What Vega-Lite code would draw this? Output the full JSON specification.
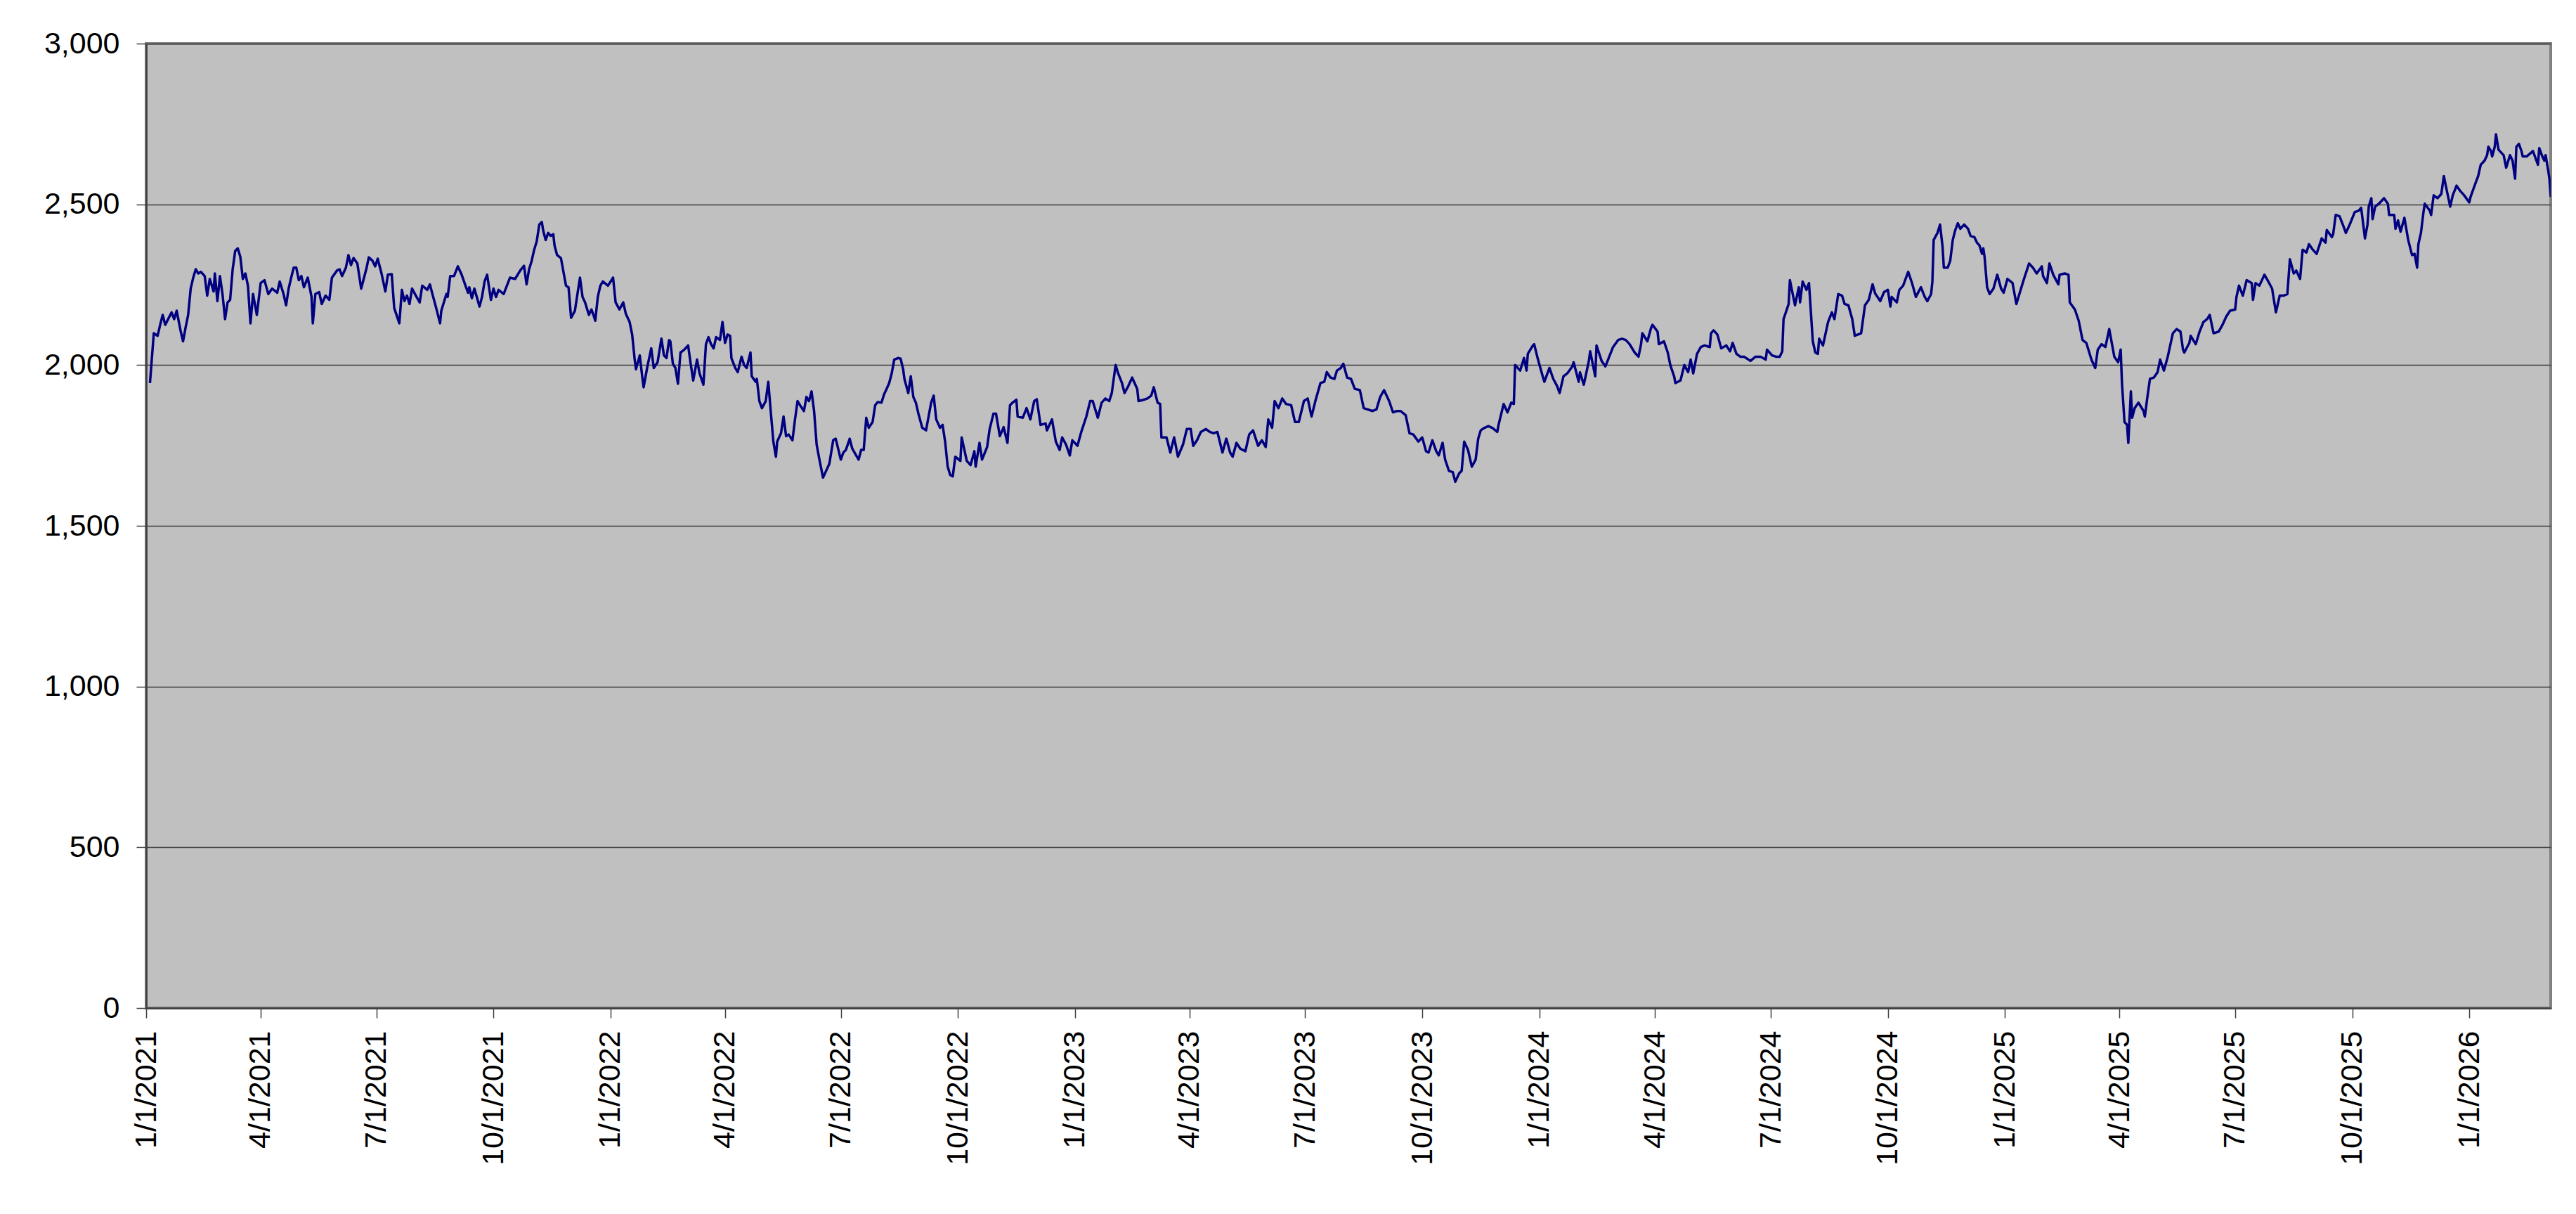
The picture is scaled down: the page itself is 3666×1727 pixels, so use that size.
{
  "$schema": "https://vega.github.io/schema/vega-lite/v6.json",
  "width": 3422,
  "height": 1372,
  "autosize": {"type": "none"},
  "padding": {"left": 208, "top": 62, "right": 36, "bottom": 293},
  "background": "white",
  "config": {
    "view": {"fill": "#C0C0C0", "stroke": "#808080", "strokeWidth": 4},
    "font": "Liberation Sans",
    "axis": {
      "labelFont": "Liberation Sans",
      "labelFontSize": 43,
      "labelColor": "black",
      "labelLimit": 0,
      "tickColor": "#404040",
      "tickSize": 14,
      "tickWidth": 1.5,
      "domainColor": "#404040",
      "domainWidth": 2.5,
      "title": null
    }
  },
  "data": {
    "values": [
      {"date": "2021-01-04", "value": 1944}, {"date": "2021-01-07", "value": 2099}, {"date": "2021-01-10", "value": 2091},
      {"date": "2021-01-12", "value": 2125}, {"date": "2021-01-14", "value": 2156}, {"date": "2021-01-16", "value": 2125},
      {"date": "2021-01-21", "value": 2164}, {"date": "2021-01-23", "value": 2143}, {"date": "2021-01-25", "value": 2169},
      {"date": "2021-01-28", "value": 2108}, {"date": "2021-01-30", "value": 2074}, {"date": "2021-02-01", "value": 2117},
      {"date": "2021-02-03", "value": 2156}, {"date": "2021-02-05", "value": 2238}, {"date": "2021-02-07", "value": 2272},
      {"date": "2021-02-09", "value": 2298}, {"date": "2021-02-11", "value": 2285}, {"date": "2021-02-13", "value": 2290},
      {"date": "2021-02-16", "value": 2277}, {"date": "2021-02-18", "value": 2216}, {"date": "2021-02-20", "value": 2268},
      {"date": "2021-02-23", "value": 2229}, {"date": "2021-02-24", "value": 2285}, {"date": "2021-02-26", "value": 2199},
      {"date": "2021-02-28", "value": 2277}, {"date": "2021-03-02", "value": 2221}, {"date": "2021-03-04", "value": 2143},
      {"date": "2021-03-06", "value": 2195}, {"date": "2021-03-08", "value": 2203}, {"date": "2021-03-10", "value": 2298},
      {"date": "2021-03-12", "value": 2355}, {"date": "2021-03-14", "value": 2363}, {"date": "2021-03-16", "value": 2337},
      {"date": "2021-03-18", "value": 2268}, {"date": "2021-03-20", "value": 2285}, {"date": "2021-03-22", "value": 2247},
      {"date": "2021-03-24", "value": 2130}, {"date": "2021-03-26", "value": 2221}, {"date": "2021-03-29", "value": 2156},
      {"date": "2021-04-01", "value": 2255}, {"date": "2021-04-04", "value": 2264}, {"date": "2021-04-07", "value": 2221},
      {"date": "2021-04-10", "value": 2238}, {"date": "2021-04-14", "value": 2225}, {"date": "2021-04-16", "value": 2260},
      {"date": "2021-04-19", "value": 2221}, {"date": "2021-04-21", "value": 2186}, {"date": "2021-04-23", "value": 2238},
      {"date": "2021-04-25", "value": 2272}, {"date": "2021-04-27", "value": 2303}, {"date": "2021-04-29", "value": 2303},
      {"date": "2021-05-01", "value": 2264}, {"date": "2021-05-03", "value": 2277}, {"date": "2021-05-05", "value": 2242},
      {"date": "2021-05-08", "value": 2272}, {"date": "2021-05-11", "value": 2212}, {"date": "2021-05-12", "value": 2130},
      {"date": "2021-05-14", "value": 2221}, {"date": "2021-05-17", "value": 2227}, {"date": "2021-05-19", "value": 2190},
      {"date": "2021-05-22", "value": 2216}, {"date": "2021-05-25", "value": 2203}, {"date": "2021-05-27", "value": 2272},
      {"date": "2021-05-31", "value": 2294}, {"date": "2021-06-02", "value": 2298}, {"date": "2021-06-04", "value": 2277},
      {"date": "2021-06-07", "value": 2303}, {"date": "2021-06-09", "value": 2342}, {"date": "2021-06-11", "value": 2311},
      {"date": "2021-06-13", "value": 2333}, {"date": "2021-06-16", "value": 2316}, {"date": "2021-06-19", "value": 2238},
      {"date": "2021-06-21", "value": 2268}, {"date": "2021-06-23", "value": 2298}, {"date": "2021-06-25", "value": 2335},
      {"date": "2021-06-28", "value": 2324}, {"date": "2021-06-30", "value": 2307}, {"date": "2021-07-02", "value": 2331},
      {"date": "2021-07-05", "value": 2285}, {"date": "2021-07-08", "value": 2229}, {"date": "2021-07-10", "value": 2281},
      {"date": "2021-07-13", "value": 2283}, {"date": "2021-07-15", "value": 2177}, {"date": "2021-07-19", "value": 2130},
      {"date": "2021-07-21", "value": 2234}, {"date": "2021-07-23", "value": 2199}, {"date": "2021-07-25", "value": 2216},
      {"date": "2021-07-27", "value": 2190}, {"date": "2021-07-29", "value": 2238}, {"date": "2021-08-01", "value": 2216},
      {"date": "2021-08-04", "value": 2195}, {"date": "2021-08-06", "value": 2247}, {"date": "2021-08-10", "value": 2234},
      {"date": "2021-08-12", "value": 2251}, {"date": "2021-08-14", "value": 2221}, {"date": "2021-08-17", "value": 2177},
      {"date": "2021-08-20", "value": 2130}, {"date": "2021-08-21", "value": 2169}, {"date": "2021-08-25", "value": 2221},
      {"date": "2021-08-26", "value": 2212}, {"date": "2021-08-28", "value": 2277}, {"date": "2021-08-31", "value": 2277},
      {"date": "2021-09-03", "value": 2307}, {"date": "2021-09-06", "value": 2281}, {"date": "2021-09-09", "value": 2247},
      {"date": "2021-09-11", "value": 2225}, {"date": "2021-09-12", "value": 2242}, {"date": "2021-09-14", "value": 2208},
      {"date": "2021-09-16", "value": 2238}, {"date": "2021-09-20", "value": 2182}, {"date": "2021-09-22", "value": 2212},
      {"date": "2021-09-24", "value": 2260}, {"date": "2021-09-26", "value": 2281}, {"date": "2021-09-29", "value": 2203},
      {"date": "2021-10-01", "value": 2238}, {"date": "2021-10-03", "value": 2212}, {"date": "2021-10-05", "value": 2234},
      {"date": "2021-10-09", "value": 2221}, {"date": "2021-10-14", "value": 2272}, {"date": "2021-10-18", "value": 2268},
      {"date": "2021-10-22", "value": 2294}, {"date": "2021-10-25", "value": 2309}, {"date": "2021-10-27", "value": 2251},
      {"date": "2021-10-29", "value": 2298}, {"date": "2021-10-31", "value": 2324}, {"date": "2021-11-02", "value": 2359},
      {"date": "2021-11-04", "value": 2385}, {"date": "2021-11-06", "value": 2437}, {"date": "2021-11-08", "value": 2445},
      {"date": "2021-11-09", "value": 2420}, {"date": "2021-11-11", "value": 2389}, {"date": "2021-11-13", "value": 2411},
      {"date": "2021-11-15", "value": 2402}, {"date": "2021-11-17", "value": 2407}, {"date": "2021-11-18", "value": 2372},
      {"date": "2021-11-20", "value": 2342}, {"date": "2021-11-23", "value": 2333}, {"date": "2021-11-27", "value": 2247},
      {"date": "2021-11-29", "value": 2242}, {"date": "2021-12-01", "value": 2147}, {"date": "2021-12-04", "value": 2169},
      {"date": "2021-12-06", "value": 2221}, {"date": "2021-12-08", "value": 2272}, {"date": "2021-12-10", "value": 2212},
      {"date": "2021-12-12", "value": 2195}, {"date": "2021-12-15", "value": 2156}, {"date": "2021-12-17", "value": 2173},
      {"date": "2021-12-19", "value": 2151}, {"date": "2021-12-20", "value": 2138}, {"date": "2021-12-22", "value": 2212},
      {"date": "2021-12-24", "value": 2247}, {"date": "2021-12-26", "value": 2260}, {"date": "2021-12-30", "value": 2247},
      {"date": "2022-01-03", "value": 2272}, {"date": "2022-01-05", "value": 2195}, {"date": "2022-01-08", "value": 2173},
      {"date": "2022-01-11", "value": 2195}, {"date": "2022-01-13", "value": 2160}, {"date": "2022-01-16", "value": 2134},
      {"date": "2022-01-18", "value": 2095}, {"date": "2022-01-20", "value": 2017}, {"date": "2022-01-21", "value": 1987},
      {"date": "2022-01-24", "value": 2030}, {"date": "2022-01-26", "value": 1961}, {"date": "2022-01-27", "value": 1931},
      {"date": "2022-01-30", "value": 1996}, {"date": "2022-02-02", "value": 2052}, {"date": "2022-02-04", "value": 1991},
      {"date": "2022-02-07", "value": 2009}, {"date": "2022-02-10", "value": 2082}, {"date": "2022-02-12", "value": 2030},
      {"date": "2022-02-14", "value": 2022}, {"date": "2022-02-16", "value": 2078}, {"date": "2022-02-17", "value": 2074},
      {"date": "2022-02-19", "value": 2004}, {"date": "2022-02-21", "value": 1991}, {"date": "2022-02-23", "value": 1942},
      {"date": "2022-02-25", "value": 2039}, {"date": "2022-02-28", "value": 2048}, {"date": "2022-03-03", "value": 2061},
      {"date": "2022-03-05", "value": 2004}, {"date": "2022-03-07", "value": 1952}, {"date": "2022-03-10", "value": 2017},
      {"date": "2022-03-12", "value": 1974}, {"date": "2022-03-15", "value": 1939}, {"date": "2022-03-17", "value": 2065},
      {"date": "2022-03-19", "value": 2087}, {"date": "2022-03-21", "value": 2065}, {"date": "2022-03-23", "value": 2052},
      {"date": "2022-03-25", "value": 2087}, {"date": "2022-03-28", "value": 2078}, {"date": "2022-03-30", "value": 2134},
      {"date": "2022-04-01", "value": 2069}, {"date": "2022-04-03", "value": 2095}, {"date": "2022-04-05", "value": 2091},
      {"date": "2022-04-06", "value": 2022}, {"date": "2022-04-09", "value": 1991}, {"date": "2022-04-11", "value": 1978},
      {"date": "2022-04-14", "value": 2026}, {"date": "2022-04-16", "value": 2000}, {"date": "2022-04-18", "value": 1991},
      {"date": "2022-04-21", "value": 2039}, {"date": "2022-04-22", "value": 1965}, {"date": "2022-04-25", "value": 1948},
      {"date": "2022-04-26", "value": 1957}, {"date": "2022-04-28", "value": 1888}, {"date": "2022-04-30", "value": 1866},
      {"date": "2022-05-03", "value": 1888}, {"date": "2022-05-05", "value": 1948}, {"date": "2022-05-07", "value": 1853},
      {"date": "2022-05-09", "value": 1762}, {"date": "2022-05-11", "value": 1715}, {"date": "2022-05-12", "value": 1762},
      {"date": "2022-05-15", "value": 1788}, {"date": "2022-05-17", "value": 1840}, {"date": "2022-05-19", "value": 1779},
      {"date": "2022-05-21", "value": 1784}, {"date": "2022-05-24", "value": 1766}, {"date": "2022-05-26", "value": 1831},
      {"date": "2022-05-28", "value": 1888}, {"date": "2022-05-30", "value": 1875}, {"date": "2022-06-02", "value": 1857},
      {"date": "2022-06-04", "value": 1901}, {"date": "2022-06-06", "value": 1888}, {"date": "2022-06-08", "value": 1918},
      {"date": "2022-06-10", "value": 1857}, {"date": "2022-06-12", "value": 1753}, {"date": "2022-06-14", "value": 1710},
      {"date": "2022-06-17", "value": 1650}, {"date": "2022-06-19", "value": 1667}, {"date": "2022-06-22", "value": 1693},
      {"date": "2022-06-25", "value": 1766}, {"date": "2022-06-27", "value": 1771}, {"date": "2022-07-01", "value": 1706},
      {"date": "2022-07-03", "value": 1728}, {"date": "2022-07-05", "value": 1736}, {"date": "2022-07-08", "value": 1771},
      {"date": "2022-07-10", "value": 1740}, {"date": "2022-07-15", "value": 1706}, {"date": "2022-07-17", "value": 1736},
      {"date": "2022-07-19", "value": 1736}, {"date": "2022-07-21", "value": 1836}, {"date": "2022-07-23", "value": 1805},
      {"date": "2022-07-26", "value": 1823}, {"date": "2022-07-28", "value": 1875}, {"date": "2022-07-30", "value": 1885},
      {"date": "2022-08-02", "value": 1883}, {"date": "2022-08-04", "value": 1909}, {"date": "2022-08-06", "value": 1926},
      {"date": "2022-08-08", "value": 1944}, {"date": "2022-08-10", "value": 1974}, {"date": "2022-08-12", "value": 2017},
      {"date": "2022-08-15", "value": 2022}, {"date": "2022-08-17", "value": 2020}, {"date": "2022-08-19", "value": 1987},
      {"date": "2022-08-20", "value": 1957}, {"date": "2022-08-23", "value": 1913}, {"date": "2022-08-25", "value": 1965},
      {"date": "2022-08-27", "value": 1901}, {"date": "2022-08-29", "value": 1883}, {"date": "2022-08-31", "value": 1849},
      {"date": "2022-09-03", "value": 1805}, {"date": "2022-09-06", "value": 1797}, {"date": "2022-09-08", "value": 1840},
      {"date": "2022-09-10", "value": 1883}, {"date": "2022-09-12", "value": 1905}, {"date": "2022-09-14", "value": 1831},
      {"date": "2022-09-17", "value": 1805}, {"date": "2022-09-19", "value": 1814}, {"date": "2022-09-21", "value": 1762},
      {"date": "2022-09-23", "value": 1684}, {"date": "2022-09-25", "value": 1658}, {"date": "2022-09-27", "value": 1654},
      {"date": "2022-09-29", "value": 1715}, {"date": "2022-10-03", "value": 1702}, {"date": "2022-10-04", "value": 1775},
      {"date": "2022-10-08", "value": 1702}, {"date": "2022-10-11", "value": 1689}, {"date": "2022-10-14", "value": 1732},
      {"date": "2022-10-15", "value": 1684}, {"date": "2022-10-18", "value": 1758}, {"date": "2022-10-20", "value": 1706},
      {"date": "2022-10-24", "value": 1745}, {"date": "2022-10-26", "value": 1801}, {"date": "2022-10-29", "value": 1849},
      {"date": "2022-10-31", "value": 1849}, {"date": "2022-11-03", "value": 1779}, {"date": "2022-11-06", "value": 1807},
      {"date": "2022-11-09", "value": 1758}, {"date": "2022-11-11", "value": 1875}, {"date": "2022-11-13", "value": 1883},
      {"date": "2022-11-16", "value": 1892}, {"date": "2022-11-17", "value": 1840}, {"date": "2022-11-21", "value": 1836},
      {"date": "2022-11-24", "value": 1866}, {"date": "2022-11-27", "value": 1831}, {"date": "2022-11-30", "value": 1888},
      {"date": "2022-12-02", "value": 1894}, {"date": "2022-12-05", "value": 1814}, {"date": "2022-12-09", "value": 1818},
      {"date": "2022-12-10", "value": 1797}, {"date": "2022-12-14", "value": 1831}, {"date": "2022-12-17", "value": 1762},
      {"date": "2022-12-20", "value": 1736}, {"date": "2022-12-22", "value": 1775}, {"date": "2022-12-25", "value": 1753},
      {"date": "2022-12-28", "value": 1719}, {"date": "2022-12-30", "value": 1766}, {"date": "2023-01-03", "value": 1749},
      {"date": "2023-01-06", "value": 1792}, {"date": "2023-01-10", "value": 1840}, {"date": "2023-01-13", "value": 1888},
      {"date": "2023-01-15", "value": 1888}, {"date": "2023-01-19", "value": 1836}, {"date": "2023-01-22", "value": 1883},
      {"date": "2023-01-25", "value": 1896}, {"date": "2023-01-28", "value": 1888}, {"date": "2023-01-30", "value": 1913},
      {"date": "2023-02-02", "value": 2000}, {"date": "2023-02-04", "value": 1974}, {"date": "2023-02-07", "value": 1944},
      {"date": "2023-02-09", "value": 1913}, {"date": "2023-02-12", "value": 1935}, {"date": "2023-02-15", "value": 1961},
      {"date": "2023-02-19", "value": 1926}, {"date": "2023-02-20", "value": 1888}, {"date": "2023-02-24", "value": 1892},
      {"date": "2023-02-27", "value": 1896}, {"date": "2023-03-02", "value": 1905}, {"date": "2023-03-04", "value": 1931},
      {"date": "2023-03-07", "value": 1883}, {"date": "2023-03-09", "value": 1879}, {"date": "2023-03-10", "value": 1775},
      {"date": "2023-03-14", "value": 1775}, {"date": "2023-03-17", "value": 1728}, {"date": "2023-03-20", "value": 1775},
      {"date": "2023-03-23", "value": 1715}, {"date": "2023-03-27", "value": 1753}, {"date": "2023-03-30", "value": 1801},
      {"date": "2023-04-02", "value": 1801}, {"date": "2023-04-04", "value": 1749}, {"date": "2023-04-07", "value": 1766},
      {"date": "2023-04-10", "value": 1792}, {"date": "2023-04-14", "value": 1801}, {"date": "2023-04-17", "value": 1792},
      {"date": "2023-04-20", "value": 1788}, {"date": "2023-04-23", "value": 1792}, {"date": "2023-04-27", "value": 1728},
      {"date": "2023-04-30", "value": 1771}, {"date": "2023-05-03", "value": 1728}, {"date": "2023-05-05", "value": 1715},
      {"date": "2023-05-08", "value": 1758}, {"date": "2023-05-11", "value": 1740}, {"date": "2023-05-15", "value": 1732},
      {"date": "2023-05-18", "value": 1784}, {"date": "2023-05-21", "value": 1797}, {"date": "2023-05-25", "value": 1749},
      {"date": "2023-05-28", "value": 1766}, {"date": "2023-05-31", "value": 1745}, {"date": "2023-06-02", "value": 1831},
      {"date": "2023-06-05", "value": 1805}, {"date": "2023-06-07", "value": 1888}, {"date": "2023-06-10", "value": 1866},
      {"date": "2023-06-13", "value": 1896}, {"date": "2023-06-16", "value": 1879}, {"date": "2023-06-20", "value": 1875},
      {"date": "2023-06-23", "value": 1823}, {"date": "2023-06-26", "value": 1823}, {"date": "2023-06-30", "value": 1888},
      {"date": "2023-07-03", "value": 1896}, {"date": "2023-07-06", "value": 1840}, {"date": "2023-07-09", "value": 1888},
      {"date": "2023-07-13", "value": 1944}, {"date": "2023-07-16", "value": 1948}, {"date": "2023-07-18", "value": 1978},
      {"date": "2023-07-21", "value": 1961}, {"date": "2023-07-24", "value": 1957}, {"date": "2023-07-26", "value": 1983},
      {"date": "2023-07-29", "value": 1991}, {"date": "2023-07-31", "value": 2004}, {"date": "2023-08-03", "value": 1961},
      {"date": "2023-08-06", "value": 1957}, {"date": "2023-08-09", "value": 1926}, {"date": "2023-08-13", "value": 1922},
      {"date": "2023-08-16", "value": 1866}, {"date": "2023-08-19", "value": 1862}, {"date": "2023-08-23", "value": 1857},
      {"date": "2023-08-26", "value": 1862}, {"date": "2023-08-29", "value": 1901}, {"date": "2023-09-01", "value": 1922},
      {"date": "2023-09-05", "value": 1888}, {"date": "2023-09-08", "value": 1853}, {"date": "2023-09-11", "value": 1857},
      {"date": "2023-09-14", "value": 1857}, {"date": "2023-09-18", "value": 1844}, {"date": "2023-09-21", "value": 1788},
      {"date": "2023-09-24", "value": 1784}, {"date": "2023-09-28", "value": 1762}, {"date": "2023-10-01", "value": 1775},
      {"date": "2023-10-04", "value": 1732}, {"date": "2023-10-06", "value": 1728}, {"date": "2023-10-09", "value": 1766},
      {"date": "2023-10-12", "value": 1732}, {"date": "2023-10-14", "value": 1719}, {"date": "2023-10-17", "value": 1758},
      {"date": "2023-10-19", "value": 1706}, {"date": "2023-10-22", "value": 1671}, {"date": "2023-10-25", "value": 1667},
      {"date": "2023-10-27", "value": 1637}, {"date": "2023-10-30", "value": 1663}, {"date": "2023-11-01", "value": 1671},
      {"date": "2023-11-03", "value": 1762}, {"date": "2023-11-06", "value": 1736}, {"date": "2023-11-09", "value": 1684},
      {"date": "2023-11-12", "value": 1706}, {"date": "2023-11-14", "value": 1771}, {"date": "2023-11-16", "value": 1797},
      {"date": "2023-11-19", "value": 1805}, {"date": "2023-11-22", "value": 1810}, {"date": "2023-11-25", "value": 1805},
      {"date": "2023-11-29", "value": 1792}, {"date": "2023-11-30", "value": 1814}, {"date": "2023-12-04", "value": 1879},
      {"date": "2023-12-07", "value": 1853}, {"date": "2023-12-10", "value": 1883}, {"date": "2023-12-12", "value": 1879},
      {"date": "2023-12-13", "value": 2000}, {"date": "2023-12-17", "value": 1983}, {"date": "2023-12-20", "value": 2022},
      {"date": "2023-12-22", "value": 1983}, {"date": "2023-12-23", "value": 2035}, {"date": "2023-12-27", "value": 2061},
      {"date": "2023-12-28", "value": 2065}, {"date": "2023-12-31", "value": 2017}, {"date": "2024-01-04", "value": 1961},
      {"date": "2024-01-05", "value": 1948}, {"date": "2024-01-09", "value": 1991}, {"date": "2024-01-12", "value": 1957},
      {"date": "2024-01-15", "value": 1935}, {"date": "2024-01-17", "value": 1913}, {"date": "2024-01-20", "value": 1965},
      {"date": "2024-01-23", "value": 1974}, {"date": "2024-01-27", "value": 1996}, {"date": "2024-01-28", "value": 2009},
      {"date": "2024-02-01", "value": 1948}, {"date": "2024-02-02", "value": 1978}, {"date": "2024-02-05", "value": 1939},
      {"date": "2024-02-09", "value": 2013}, {"date": "2024-02-10", "value": 2043}, {"date": "2024-02-14", "value": 1965},
      {"date": "2024-02-15", "value": 2061}, {"date": "2024-02-19", "value": 2013}, {"date": "2024-02-22", "value": 1996},
      {"date": "2024-02-25", "value": 2026}, {"date": "2024-02-28", "value": 2056}, {"date": "2024-03-03", "value": 2078},
      {"date": "2024-03-06", "value": 2082}, {"date": "2024-03-09", "value": 2078}, {"date": "2024-03-12", "value": 2065},
      {"date": "2024-03-16", "value": 2039}, {"date": "2024-03-19", "value": 2026}, {"date": "2024-03-21", "value": 2065},
      {"date": "2024-03-22", "value": 2099}, {"date": "2024-03-26", "value": 2074}, {"date": "2024-03-29", "value": 2117},
      {"date": "2024-03-30", "value": 2125}, {"date": "2024-04-03", "value": 2104}, {"date": "2024-04-04", "value": 2065},
      {"date": "2024-04-08", "value": 2074}, {"date": "2024-04-11", "value": 2039}, {"date": "2024-04-13", "value": 2000},
      {"date": "2024-04-16", "value": 1965}, {"date": "2024-04-17", "value": 1944}, {"date": "2024-04-21", "value": 1952},
      {"date": "2024-04-24", "value": 2000}, {"date": "2024-04-27", "value": 1978}, {"date": "2024-04-29", "value": 2017},
      {"date": "2024-05-01", "value": 1974}, {"date": "2024-05-04", "value": 2035}, {"date": "2024-05-07", "value": 2056},
      {"date": "2024-05-10", "value": 2061}, {"date": "2024-05-14", "value": 2056}, {"date": "2024-05-15", "value": 2099},
      {"date": "2024-05-17", "value": 2108}, {"date": "2024-05-20", "value": 2095}, {"date": "2024-05-23", "value": 2052},
      {"date": "2024-05-27", "value": 2061}, {"date": "2024-05-30", "value": 2043}, {"date": "2024-06-01", "value": 2069},
      {"date": "2024-06-04", "value": 2035}, {"date": "2024-06-07", "value": 2026}, {"date": "2024-06-10", "value": 2026},
      {"date": "2024-06-15", "value": 2013}, {"date": "2024-06-19", "value": 2026}, {"date": "2024-06-23", "value": 2026},
      {"date": "2024-06-27", "value": 2017}, {"date": "2024-06-28", "value": 2048}, {"date": "2024-07-02", "value": 2030},
      {"date": "2024-07-05", "value": 2026}, {"date": "2024-07-08", "value": 2026}, {"date": "2024-07-10", "value": 2043},
      {"date": "2024-07-11", "value": 2143}, {"date": "2024-07-15", "value": 2190}, {"date": "2024-07-16", "value": 2264},
      {"date": "2024-07-20", "value": 2186}, {"date": "2024-07-23", "value": 2242}, {"date": "2024-07-24", "value": 2195},
      {"date": "2024-07-26", "value": 2260}, {"date": "2024-07-29", "value": 2234}, {"date": "2024-07-31", "value": 2255},
      {"date": "2024-08-03", "value": 2074}, {"date": "2024-08-05", "value": 2039}, {"date": "2024-08-07", "value": 2035},
      {"date": "2024-08-08", "value": 2082}, {"date": "2024-08-11", "value": 2061}, {"date": "2024-08-15", "value": 2134},
      {"date": "2024-08-18", "value": 2164}, {"date": "2024-08-20", "value": 2143}, {"date": "2024-08-23", "value": 2221},
      {"date": "2024-08-26", "value": 2216}, {"date": "2024-08-28", "value": 2190}, {"date": "2024-08-31", "value": 2186},
      {"date": "2024-09-03", "value": 2143}, {"date": "2024-09-05", "value": 2091}, {"date": "2024-09-10", "value": 2099},
      {"date": "2024-09-13", "value": 2186}, {"date": "2024-09-16", "value": 2203}, {"date": "2024-09-19", "value": 2251},
      {"date": "2024-09-21", "value": 2223}, {"date": "2024-09-25", "value": 2199}, {"date": "2024-09-28", "value": 2227},
      {"date": "2024-10-01", "value": 2234}, {"date": "2024-10-03", "value": 2182}, {"date": "2024-10-04", "value": 2212},
      {"date": "2024-10-08", "value": 2195}, {"date": "2024-10-10", "value": 2234}, {"date": "2024-10-13", "value": 2247},
      {"date": "2024-10-17", "value": 2290}, {"date": "2024-10-20", "value": 2255}, {"date": "2024-10-23", "value": 2212},
      {"date": "2024-10-27", "value": 2242}, {"date": "2024-10-30", "value": 2212}, {"date": "2024-11-01", "value": 2199},
      {"date": "2024-11-04", "value": 2221}, {"date": "2024-11-05", "value": 2260}, {"date": "2024-11-06", "value": 2389},
      {"date": "2024-11-09", "value": 2411}, {"date": "2024-11-11", "value": 2437}, {"date": "2024-11-13", "value": 2368},
      {"date": "2024-11-14", "value": 2303}, {"date": "2024-11-17", "value": 2303}, {"date": "2024-11-19", "value": 2324},
      {"date": "2024-11-21", "value": 2389}, {"date": "2024-11-23", "value": 2420}, {"date": "2024-11-25", "value": 2441},
      {"date": "2024-11-27", "value": 2424}, {"date": "2024-11-30", "value": 2437}, {"date": "2024-12-03", "value": 2424},
      {"date": "2024-12-05", "value": 2402}, {"date": "2024-12-08", "value": 2398}, {"date": "2024-12-10", "value": 2381},
      {"date": "2024-12-12", "value": 2372}, {"date": "2024-12-14", "value": 2346}, {"date": "2024-12-15", "value": 2363},
      {"date": "2024-12-16", "value": 2337}, {"date": "2024-12-18", "value": 2242}, {"date": "2024-12-20", "value": 2221},
      {"date": "2024-12-23", "value": 2238}, {"date": "2024-12-26", "value": 2281}, {"date": "2024-12-29", "value": 2238},
      {"date": "2024-12-31", "value": 2225}, {"date": "2025-01-03", "value": 2268}, {"date": "2025-01-07", "value": 2255},
      {"date": "2025-01-10", "value": 2190}, {"date": "2025-01-13", "value": 2229}, {"date": "2025-01-16", "value": 2268},
      {"date": "2025-01-20", "value": 2316}, {"date": "2025-01-23", "value": 2303}, {"date": "2025-01-26", "value": 2285},
      {"date": "2025-01-30", "value": 2307}, {"date": "2025-01-31", "value": 2277}, {"date": "2025-02-03", "value": 2255},
      {"date": "2025-02-05", "value": 2316}, {"date": "2025-02-08", "value": 2281}, {"date": "2025-02-12", "value": 2251},
      {"date": "2025-02-13", "value": 2281}, {"date": "2025-02-17", "value": 2285}, {"date": "2025-02-20", "value": 2281},
      {"date": "2025-02-21", "value": 2195}, {"date": "2025-02-25", "value": 2173}, {"date": "2025-02-28", "value": 2138},
      {"date": "2025-03-03", "value": 2078}, {"date": "2025-03-06", "value": 2069}, {"date": "2025-03-10", "value": 2017},
      {"date": "2025-03-13", "value": 1991}, {"date": "2025-03-15", "value": 2048}, {"date": "2025-03-18", "value": 2065},
      {"date": "2025-03-21", "value": 2056}, {"date": "2025-03-24", "value": 2112}, {"date": "2025-03-28", "value": 2026},
      {"date": "2025-03-31", "value": 2009}, {"date": "2025-04-02", "value": 2048}, {"date": "2025-04-03", "value": 1944},
      {"date": "2025-04-05", "value": 1823}, {"date": "2025-04-07", "value": 1814}, {"date": "2025-04-08", "value": 1758},
      {"date": "2025-04-10", "value": 1918}, {"date": "2025-04-11", "value": 1836}, {"date": "2025-04-13", "value": 1866},
      {"date": "2025-04-16", "value": 1883}, {"date": "2025-04-20", "value": 1857}, {"date": "2025-04-21", "value": 1840},
      {"date": "2025-04-23", "value": 1901}, {"date": "2025-04-25", "value": 1957}, {"date": "2025-04-28", "value": 1961},
      {"date": "2025-05-01", "value": 1978}, {"date": "2025-05-03", "value": 2017}, {"date": "2025-05-06", "value": 1983},
      {"date": "2025-05-09", "value": 2026}, {"date": "2025-05-13", "value": 2099}, {"date": "2025-05-16", "value": 2112},
      {"date": "2025-05-19", "value": 2104}, {"date": "2025-05-21", "value": 2048}, {"date": "2025-05-22", "value": 2039},
      {"date": "2025-05-26", "value": 2069}, {"date": "2025-05-27", "value": 2091}, {"date": "2025-05-31", "value": 2065},
      {"date": "2025-06-03", "value": 2104}, {"date": "2025-06-06", "value": 2134}, {"date": "2025-06-09", "value": 2143},
      {"date": "2025-06-11", "value": 2156}, {"date": "2025-06-14", "value": 2099}, {"date": "2025-06-18", "value": 2104},
      {"date": "2025-06-21", "value": 2125}, {"date": "2025-06-24", "value": 2151}, {"date": "2025-06-27", "value": 2169},
      {"date": "2025-07-01", "value": 2173}, {"date": "2025-07-02", "value": 2212}, {"date": "2025-07-04", "value": 2247},
      {"date": "2025-07-07", "value": 2216}, {"date": "2025-07-10", "value": 2264}, {"date": "2025-07-14", "value": 2255},
      {"date": "2025-07-15", "value": 2203}, {"date": "2025-07-17", "value": 2255}, {"date": "2025-07-20", "value": 2247},
      {"date": "2025-07-24", "value": 2281}, {"date": "2025-07-27", "value": 2260}, {"date": "2025-07-30", "value": 2238},
      {"date": "2025-08-02", "value": 2164}, {"date": "2025-08-05", "value": 2216}, {"date": "2025-08-08", "value": 2216},
      {"date": "2025-08-11", "value": 2221}, {"date": "2025-08-13", "value": 2329}, {"date": "2025-08-16", "value": 2285},
      {"date": "2025-08-18", "value": 2294}, {"date": "2025-08-21", "value": 2268}, {"date": "2025-08-23", "value": 2359},
      {"date": "2025-08-26", "value": 2350}, {"date": "2025-08-28", "value": 2376}, {"date": "2025-08-31", "value": 2359},
      {"date": "2025-09-03", "value": 2346}, {"date": "2025-09-07", "value": 2394}, {"date": "2025-09-10", "value": 2381},
      {"date": "2025-09-11", "value": 2420}, {"date": "2025-09-15", "value": 2398}, {"date": "2025-09-16", "value": 2407},
      {"date": "2025-09-18", "value": 2467}, {"date": "2025-09-21", "value": 2463}, {"date": "2025-09-24", "value": 2433},
      {"date": "2025-09-26", "value": 2411}, {"date": "2025-09-29", "value": 2437}, {"date": "2025-10-03", "value": 2476},
      {"date": "2025-10-06", "value": 2480}, {"date": "2025-10-08", "value": 2489}, {"date": "2025-10-09", "value": 2458},
      {"date": "2025-10-11", "value": 2394}, {"date": "2025-10-13", "value": 2437}, {"date": "2025-10-14", "value": 2493},
      {"date": "2025-10-16", "value": 2519}, {"date": "2025-10-17", "value": 2454}, {"date": "2025-10-19", "value": 2493},
      {"date": "2025-10-22", "value": 2502}, {"date": "2025-10-26", "value": 2519}, {"date": "2025-10-29", "value": 2502},
      {"date": "2025-10-30", "value": 2467}, {"date": "2025-11-03", "value": 2467}, {"date": "2025-11-04", "value": 2424},
      {"date": "2025-11-06", "value": 2450}, {"date": "2025-11-08", "value": 2415}, {"date": "2025-11-11", "value": 2458},
      {"date": "2025-11-14", "value": 2389}, {"date": "2025-11-17", "value": 2342}, {"date": "2025-11-19", "value": 2346},
      {"date": "2025-11-21", "value": 2303}, {"date": "2025-11-22", "value": 2376}, {"date": "2025-11-24", "value": 2411},
      {"date": "2025-11-26", "value": 2476}, {"date": "2025-11-27", "value": 2502}, {"date": "2025-12-01", "value": 2480},
      {"date": "2025-12-02", "value": 2467}, {"date": "2025-12-04", "value": 2528}, {"date": "2025-12-07", "value": 2519},
      {"date": "2025-12-10", "value": 2532}, {"date": "2025-12-12", "value": 2588}, {"date": "2025-12-14", "value": 2549},
      {"date": "2025-12-17", "value": 2493}, {"date": "2025-12-19", "value": 2528}, {"date": "2025-12-22", "value": 2558},
      {"date": "2025-12-25", "value": 2541}, {"date": "2025-12-28", "value": 2528}, {"date": "2026-01-01", "value": 2506},
      {"date": "2026-01-02", "value": 2523}, {"date": "2026-01-06", "value": 2567}, {"date": "2026-01-08", "value": 2588},
      {"date": "2026-01-10", "value": 2623}, {"date": "2026-01-13", "value": 2636}, {"date": "2026-01-15", "value": 2653},
      {"date": "2026-01-16", "value": 2679}, {"date": "2026-01-18", "value": 2666}, {"date": "2026-01-19", "value": 2649},
      {"date": "2026-01-21", "value": 2679}, {"date": "2026-01-22", "value": 2718}, {"date": "2026-01-24", "value": 2670},
      {"date": "2026-01-27", "value": 2657}, {"date": "2026-01-28", "value": 2653}, {"date": "2026-01-30", "value": 2614},
      {"date": "2026-02-02", "value": 2653}, {"date": "2026-02-04", "value": 2636}, {"date": "2026-02-06", "value": 2580},
      {"date": "2026-02-07", "value": 2679}, {"date": "2026-02-09", "value": 2688}, {"date": "2026-02-11", "value": 2666},
      {"date": "2026-02-12", "value": 2649}, {"date": "2026-02-15", "value": 2649}, {"date": "2026-02-19", "value": 2662},
      {"date": "2026-02-20", "value": 2666}, {"date": "2026-02-24", "value": 2623}, {"date": "2026-02-25", "value": 2675},
      {"date": "2026-02-27", "value": 2653}, {"date": "2026-03-01", "value": 2636}, {"date": "2026-03-02", "value": 2653},
      {"date": "2026-03-04", "value": 2606}, {"date": "2026-03-05", "value": 2580}, {"date": "2026-03-06", "value": 2523}
    ]
  },
  "mark": {"type": "line", "color": "#000080", "strokeWidth": 3.5, "strokeJoin": "round", "clip": true},
  "encoding": {
    "x": {
      "field": "date",
      "type": "temporal",
      "scale": {
        "type": "utc",
        "domain": [
          {"year": 2021, "month": 1, "date": 1, "utc": true},
          {"year": 2026, "month": 3, "date": 6, "utc": true}
        ]
      },
      "axis": {
        "values": [
          {"year": 2021, "month": 1, "date": 1, "utc": true}, {"year": 2021, "month": 4, "date": 1, "utc": true},
          {"year": 2021, "month": 7, "date": 1, "utc": true}, {"year": 2021, "month": 10, "date": 1, "utc": true},
          {"year": 2022, "month": 1, "date": 1, "utc": true}, {"year": 2022, "month": 4, "date": 1, "utc": true},
          {"year": 2022, "month": 7, "date": 1, "utc": true}, {"year": 2022, "month": 10, "date": 1, "utc": true},
          {"year": 2023, "month": 1, "date": 1, "utc": true}, {"year": 2023, "month": 4, "date": 1, "utc": true},
          {"year": 2023, "month": 7, "date": 1, "utc": true}, {"year": 2023, "month": 10, "date": 1, "utc": true},
          {"year": 2024, "month": 1, "date": 1, "utc": true}, {"year": 2024, "month": 4, "date": 1, "utc": true},
          {"year": 2024, "month": 7, "date": 1, "utc": true}, {"year": 2024, "month": 10, "date": 1, "utc": true},
          {"year": 2025, "month": 1, "date": 1, "utc": true}, {"year": 2025, "month": 4, "date": 1, "utc": true},
          {"year": 2025, "month": 7, "date": 1, "utc": true}, {"year": 2025, "month": 10, "date": 1, "utc": true},
          {"year": 2026, "month": 1, "date": 1, "utc": true}
        ],
        "format": "%-m/%-d/%Y",
        "labelAngle": 270,
        "labelPadding": 18,
        "labelFlush": false,
        "labelOverlap": false,
        "grid": false
      }
    },
    "y": {
      "field": "value",
      "type": "quantitative",
      "scale": {"domain": [0, 3000], "nice": false},
      "axis": {
        "values": [0, 500, 1000, 1500, 2000, 2500, 3000],
        "format": ",.0f",
        "grid": true,
        "gridColor": "#3c3c3c",
        "gridWidth": 1.5,
        "labelPadding": 24,
        "labelFlush": false
      }
    }
  }
}
